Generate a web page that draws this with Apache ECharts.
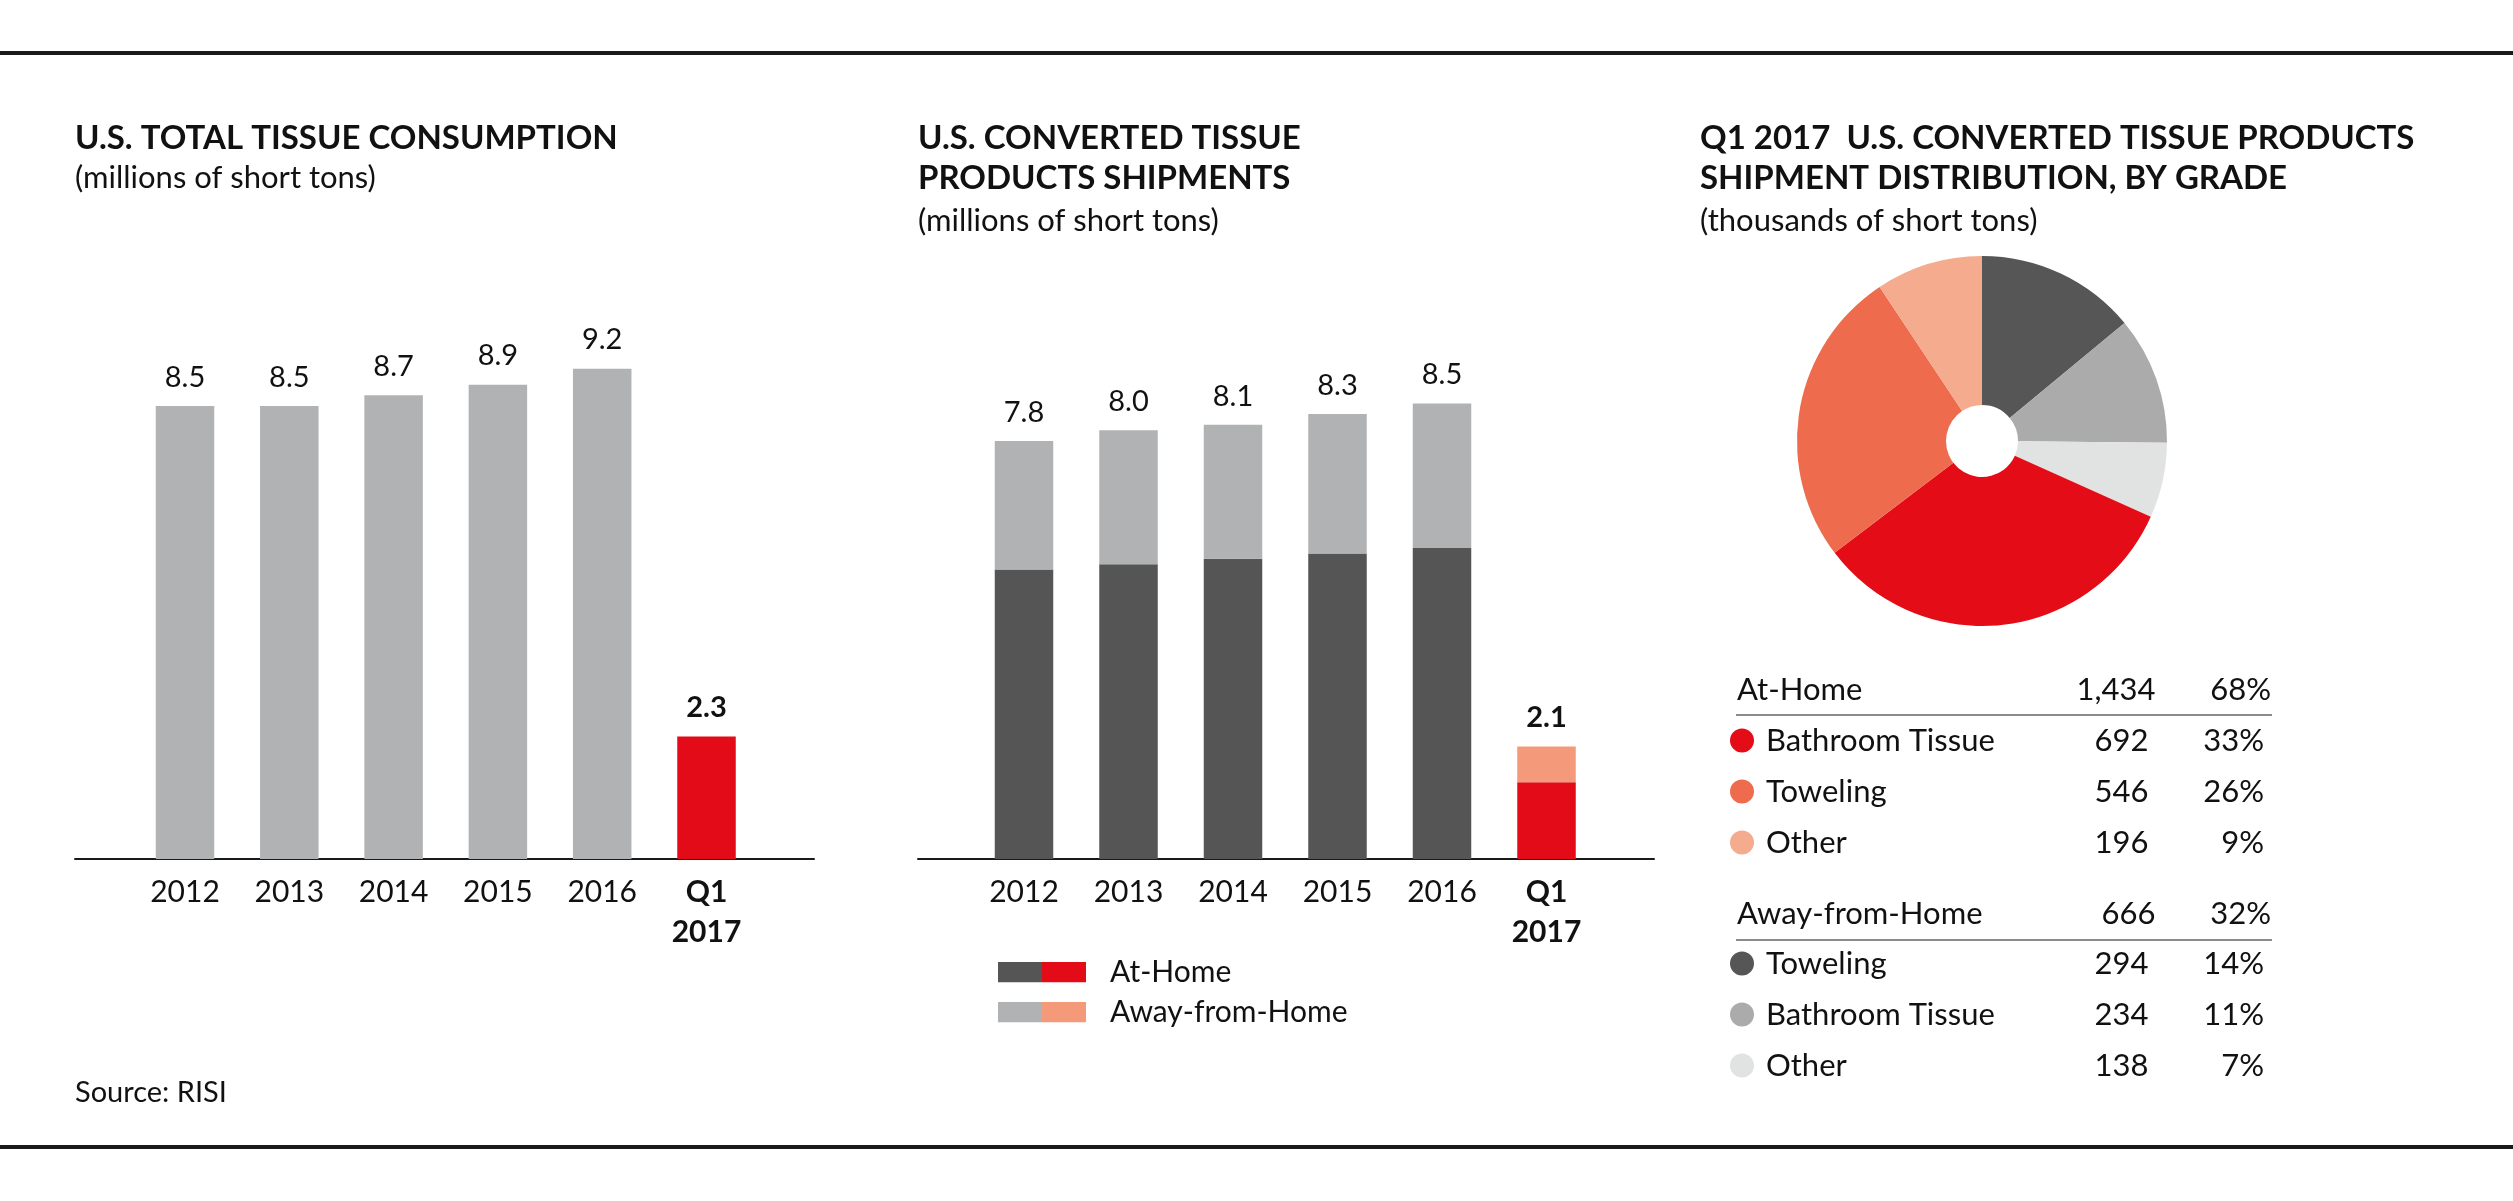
<!DOCTYPE html>
<html><head><meta charset="utf-8">
<script src="https://cdn.jsdelivr.net/npm/echarts@6/dist/echarts.min.js"></script>
<style>html,body{margin:0;padding:0;background:#fff}#c{width:2513px;height:1201px}</style>
</head><body><div id="c"></div>
<script>
// ---------- data ----------
const years = ['2012', '2013', '2014', '2015', '2016', 'Q1\n2017'];
const totalConsumption = [8.5, 8.5, 8.7, 8.9, 9.2, 2.3];
const atHomeShipments = [5.4, 5.5, 5.6, 5.7, 5.8, 1.434];
const awayShipments = [2.4, 2.5, 2.5, 2.6, 2.7, 0.666];
const gradeGroups = ['At-Home', 'Away-from-Home'];
const groupTotals = [1434, 666];
const groupShares = [68, 32];
const atHomeGrades = ['Bathroom Tissue', 'Toweling', 'Other'];
const atHomeValues = [692, 546, 196];
const atHomeShares = [33, 26, 9];
const awayGrades = ['Toweling', 'Bathroom Tissue', 'Other'];
const awayValues = [294, 234, 138];
const awayShares = [14, 11, 7];

// ---------- styles ----------
const FONT = 'Lato';
const TXT = '#111111';
const COL = {
  gray: '#b1b2b3', dark: '#545554', red: '#e30b17', peach: '#f4997a'
};
const atHomePieColors = ['#e30c17', '#ef6b4d', '#f5ab8e'];
const awayPieColors = ['#555655', '#aaabaa', '#e1e3e2'];
const last = years.length - 1;

function swatch(c1, c2) {
  const svg = '<svg xmlns="http://www.w3.org/2000/svg" width="107" height="21">' +
    '<rect x="0" y="0" width="44" height="21" fill="' + c1 + '"/>' +
    '<rect x="44" y="0" width="44" height="21" fill="' + c2 + '"/></svg>';
  return 'image://data:image/svg+xml;charset=utf-8,' + encodeURIComponent(svg);
}

const catLabel = {
  interval: 0,
  fontFamily: FONT, fontSize: 30, color: TXT, lineHeight: 40, margin: 13,
  formatter: function (v) {
    if (v.indexOf('\n') >= 0) return v.split('\n').map(s => '{b|' + s + '}').join('\n');
    return v;
  },
  rich: { b: { fontFamily: FONT, fontSize: 30, fontWeight: 'bold', color: TXT, lineHeight: 40 } }
};
const valLabel = { show: true, position: 'top', distance: 14, fontFamily: FONT, fontSize: 29, color: TXT };

const rowRich = {
  n: { fontFamily: FONT, fontSize: 31, color: TXT, width: 300, lineHeight: 30 },
  v: { fontFamily: FONT, fontSize: 31, color: TXT, width: 82.5, align: 'right', lineHeight: 30 },
  p: { fontFamily: FONT, fontSize: 31, color: TXT, width: 115.5, align: 'right', lineHeight: 30 }
};
const headRich = {
  n: { fontFamily: FONT, fontSize: 31, fill: TXT, width: 336, lineHeight: 30 },
  v: { fontFamily: FONT, fontSize: 31, fill: TXT, width: 82.5, align: 'right', lineHeight: 30 },
  p: { fontFamily: FONT, fontSize: 31, fill: TXT, width: 115.5, align: 'right', lineHeight: 30 }
};

function gradeFormatter(name) {
  const parts = name.split('|');
  const isHome = parts[0] === gradeGroups[0];
  const grades = isHome ? atHomeGrades : awayGrades;
  const vals = isHome ? atHomeValues : awayValues;
  const shares = isHome ? atHomeShares : awayShares;
  const i = grades.indexOf(parts[1]);
  return '{n|' + parts[1] + '}{v|' + vals[i].toLocaleString('en-US') + '}{p|' + shares[i] + '%}';
}

const pieData = awayGrades.map((g, i) => ({ name: gradeGroups[1] + '|' + g, value: awayValues[i], itemStyle: { color: awayPieColors[i] } }))
  .concat(atHomeGrades.map((g, i) => ({ name: gradeGroups[0] + '|' + g, value: atHomeValues[i], itemStyle: { color: atHomePieColors[i] } })));

const titleText = { fontFamily: FONT, fontSize: 33, fontWeight: 'bold', color: TXT, lineHeight: 40 };
const subText = { fontFamily: FONT, fontSize: 31, color: TXT, lineHeight: 40 };

const BASE = 1201 - 859;
const frameAxis = (gi) => ({
  gridIndex: gi, type: 'value', min: 0, max: 1,
  axisLine: { show: true, onZero: false, lineStyle: { color: '#1a1a1a', width: 2 } },
  axisTick: { show: false }, axisLabel: { show: false }, splitLine: { show: false }
});
const hiddenY = (gi, max) => ({ gridIndex: gi, type: 'value', min: 0, max: max, show: false, splitLine: { show: false } });

const option = {
  backgroundColor: '#ffffff',
  animation: false,
  textStyle: { fontFamily: FONT },
  title: [
    { left: 75, top: 118, padding: 0, itemGap: 0, text: 'U.S. TOTAL TISSUE CONSUMPTION', subtext: '(millions of short tons)', textStyle: titleText, subtextStyle: subText },
    { left: 918, top: 118, padding: 0, itemGap: 3, text: 'U.S. CONVERTED TISSUE\nPRODUCTS SHIPMENTS', subtext: '(millions of short tons)', textStyle: titleText, subtextStyle: subText },
    { left: 1700, top: 118, padding: 0, itemGap: 3, text: 'Q1 2017  U.S. CONVERTED TISSUE PRODUCTS\nSHIPMENT DISTRIBUTION, BY GRADE', subtext: '(thousands of short tons)', textStyle: titleText, subtextStyle: subText },
    { left: 75, top: 1078, padding: 0, text: 'Source: RISI', textStyle: { fontFamily: FONT, fontSize: 29, fontWeight: 'normal', color: TXT, lineHeight: 30 } }
  ],
  grid: [
    { left: 132.85, width: 625.8, bottom: BASE, height: 533 },
    { left: 75, width: 739, bottom: BASE, height: 533 },
    { left: 971.75, width: 627, bottom: BASE, height: 536 },
    { left: 918, width: 736, bottom: BASE, height: 536 }
  ],
  xAxis: [
    { gridIndex: 0, type: 'category', data: years, axisLine: { show: false }, axisTick: { show: false }, axisLabel: catLabel },
    frameAxis(1),
    { gridIndex: 2, type: 'category', data: years, axisLine: { show: false }, axisTick: { show: false }, axisLabel: catLabel },
    frameAxis(3)
  ],
  yAxis: [hiddenY(0, 10), hiddenY(1, 1), hiddenY(2, 10), hiddenY(3, 1)],
  legend: [
    {
      orient: 'vertical', left: 998, top: 957, padding: 0, itemWidth: 107, itemHeight: 21, itemGap: 10,
      selectedMode: false,
      data: [
        { name: 'At-Home', icon: swatch(COL.dark, COL.red) },
        { name: 'Away-from-Home', icon: swatch(COL.gray, COL.peach) }
      ],
      textStyle: { fontFamily: FONT, fontSize: 30, color: TXT, lineHeight: 30 }
    },
    {
      orient: 'vertical', left: 1730, top: 725, padding: 0, itemWidth: 38, itemHeight: 24, itemGap: 20,
      selectedMode: false, icon: 'circle',
      data: atHomeGrades.map(g => gradeGroups[0] + '|' + g),
      formatter: gradeFormatter,
      textStyle: { fontFamily: FONT, fontSize: 31, color: TXT, lineHeight: 30, rich: rowRich }
    },
    {
      orient: 'vertical', left: 1730, top: 948, padding: 0, itemWidth: 38, itemHeight: 24, itemGap: 20,
      selectedMode: false, icon: 'circle',
      data: awayGrades.map(g => gradeGroups[1] + '|' + g),
      formatter: gradeFormatter,
      textStyle: { fontFamily: FONT, fontSize: 31, color: TXT, lineHeight: 30, rich: rowRich }
    }
  ],
  series: [
    {
      type: 'bar', name: 'U.S. Total Tissue Consumption', xAxisIndex: 0, yAxisIndex: 0, barWidth: 58.5,
      itemStyle: { color: COL.gray }, label: valLabel,
      data: totalConsumption.map((v, i) => i === last ? { value: v, itemStyle: { color: COL.red }, label: { fontWeight: 'bold' } } : v)
    },
    {
      type: 'bar', name: 'At-Home', stack: 'ship', xAxisIndex: 2, yAxisIndex: 2, barWidth: 58.5,
      itemStyle: { color: COL.dark },
      data: atHomeShipments.map((v, i) => i === last ? { value: v, itemStyle: { color: COL.red } } : v)
    },
    {
      type: 'bar', name: 'Away-from-Home', stack: 'ship', xAxisIndex: 2, yAxisIndex: 2, barWidth: 58.5,
      itemStyle: { color: COL.gray },
      label: Object.assign({}, valLabel, {
        formatter: p => (atHomeShipments[p.dataIndex] + awayShipments[p.dataIndex]).toFixed(1)
      }),
      data: awayShipments.map((v, i) => i === last ? { value: v, itemStyle: { color: COL.peach }, label: { fontWeight: 'bold' } } : v)
    },
    {
      type: 'pie', name: 'Q1 2017 shipment distribution', center: [1982, 441], radius: [36, 185],
      startAngle: 90, clockwise: true, label: { show: false }, labelLine: { show: false },
      emphasis: { disabled: true }, silent: true, avoidLabelOverlap: false,
      itemStyle: { borderWidth: 0 },
      data: pieData
    }
  ],
  graphic: [
    { type: 'rect', shape: { x: 0, y: 51, width: 2513, height: 4 }, style: { fill: '#1a1a1a' }, silent: true },
    { type: 'rect', shape: { x: 0, y: 1145, width: 2513, height: 4 }, style: { fill: '#1a1a1a' }, silent: true },
    {
      type: 'text', x: 1737, y: 690, silent: true,
      style: { text: '{n|' + gradeGroups[0] + '}{v|' + groupTotals[0].toLocaleString('en-US') + '}{p|' + groupShares[0] + '%}', rich: headRich, fontFamily: FONT, fontSize: 31, fill: TXT, verticalAlign: 'middle' }
    },
    {
      type: 'text', x: 1737, y: 914, silent: true,
      style: { text: '{n|' + gradeGroups[1] + '}{v|' + groupTotals[1].toLocaleString('en-US') + '}{p|' + groupShares[1] + '%}', rich: headRich, fontFamily: FONT, fontSize: 31, fill: TXT, verticalAlign: 'middle' }
    },
    { type: 'line', shape: { x1: 1736, y1: 715, x2: 2272, y2: 715 }, style: { stroke: '#8c8c8c', lineWidth: 2 }, silent: true },
    { type: 'line', shape: { x1: 1736, y1: 940, x2: 2272, y2: 940 }, style: { stroke: '#8c8c8c', lineWidth: 2 }, silent: true }
  ]
};

const chart = echarts.init(document.getElementById('c'), null, { renderer: 'canvas' });
chart.setOption(option);
</script>
</body></html>
